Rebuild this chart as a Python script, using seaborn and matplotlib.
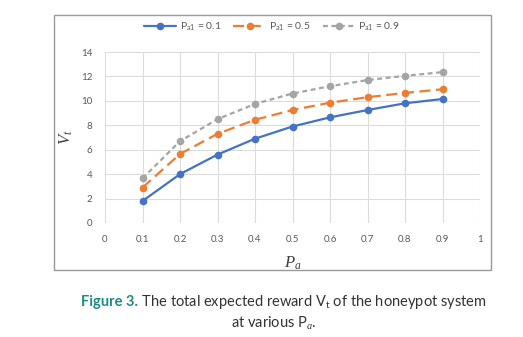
import matplotlib
matplotlib.use("Agg")
import matplotlib.pyplot as plt
import seaborn as sns
import pandas as pd
from matplotlib.patches import Rectangle

# Data
pa_values = [0.1, 0.2, 0.3, 0.4, 0.5, 0.6, 0.7, 0.8, 0.9]
vt_pa1_01 = [1.8, 4.0, 5.6, 6.9, 7.9, 8.65, 9.25, 9.8, 10.15]
vt_pa1_05 = [2.9, 5.65, 7.3, 8.45, 9.25, 9.85, 10.3, 10.65, 10.95]
vt_pa1_09 = [3.65, 6.7, 8.5, 9.75, 10.6, 11.2, 11.7, 12.05, 12.35]
series_labels = [r"P$_{\mathrm{a1}}$ = 0.1", r"P$_{\mathrm{a1}}$ = 0.5", r"P$_{\mathrm{a1}}$ = 0.9"]
x_ticks = [0, 0.1, 0.2, 0.3, 0.4, 0.5, 0.6, 0.7, 0.8, 0.9, 1]
x_tick_labels = ["0", "0.1", "0.2", "0.3", "0.4", "0.5", "0.6", "0.7", "0.8", "0.9", "1"]
y_ticks = [0, 2, 4, 6, 8, 10, 12, 14]

sns.set_theme(style="white")
plt.rcParams["font.family"] = ["Lato", "DejaVu Sans"]
plt.rcParams["mathtext.fontset"] = "custom"
plt.rcParams["mathtext.rm"] = "Lato"
plt.rcParams["mathtext.it"] = "Liberation Serif:italic"

W, H = 523, 337
fig = plt.figure(figsize=(W / 100, H / 100), dpi=100)
fig.patch.set_facecolor("white")

# chart frame
fig.patches.append(Rectangle((54 / W, 1 - 270 / H), (491 - 54) / W, (270 - 15) / H,
                             transform=fig.transFigure, fill=False,
                             edgecolor="#9a9a9a", linewidth=1.0))

ax = fig.add_axes([105 / W, 1 - 223 / H, 375 / W, 171 / H])

df = pd.DataFrame({
    "Pa": pa_values * 3,
    "Vt": vt_pa1_01 + vt_pa1_05 + vt_pa1_09,
    "series": [series_labels[0]] * 9 + [series_labels[1]] * 9 + [series_labels[2]] * 9,
})

colors = ["#4472C4", "#ED7D31", "#A5A5A5"]
dash_styles = ["", (5, 2.5), (2.2, 1.6)]
sns.lineplot(data=df, x="Pa", y="Vt", hue="series", style="series",
             palette=colors, dashes=dash_styles, markers=["o", "o", "o"],
             markersize=5.5, markeredgewidth=0, linewidth=1.6, ax=ax, legend="full")

ax.set_xlim(0, 1)
ax.set_ylim(0, 14)
ax.set_xticks(x_ticks)
ax.set_xticklabels(x_tick_labels)
ax.set_yticks(y_ticks)
ax.grid(True, color="#dcdcdc", linewidth=0.8)
ax.set_axisbelow(True)
for s in ax.spines.values():
    s.set_visible(False)
ax.tick_params(axis="both", length=0, labelsize=7, colors="#595959")
ax.tick_params(axis="x", pad=9)
ax.tick_params(axis="y", pad=9)
ax.set_xlabel("")
ax.set_ylabel("")

fig.text(293 / W, 1 - 263 / H, r"$P_a$", fontsize=12, color="#404040", ha="center", va="center")
fig.text(66 / W, 1 - 137 / H, r"$V_t$", fontsize=12, color="#404040", ha="center", va="center",
         rotation=90)

handles, labels = ax.get_legend_handles_labels()
ax.get_legend().remove()
fig.legend(handles, labels, loc="center", bbox_to_anchor=(272 / W, 1 - 27 / H), ncol=3,
           frameon=False, fontsize=7.5, handlelength=3.1, columnspacing=1.2,
           handletextpad=0.3, labelcolor="#595959")

# caption
fig.canvas.draw()
renderer = fig.canvas.get_renderer()
cap_y1 = 1 - 302 / H
t1 = fig.text(0, cap_y1, "Figure 3.", fontsize=10.5, fontweight="bold", color="#1d8a8a",
              ha="left", va="center")
t2 = fig.text(0, cap_y1, r" The total expected reward V$_{\mathrm{t}}$ of the honeypot system",
              fontsize=10.5, color="#333333", ha="left", va="center")
w1 = t1.get_window_extent(renderer).width
w2 = t2.get_window_extent(renderer).width
start = 284 - (w1 + w2) / 2
t1.set_x(start / W)
t2.set_x((start + w1) / W)
fig.text(274 / W, 1 - 323 / H, r"at various P$_{\mathit{a}}$.", fontsize=10.5, color="#333333",
         ha="center", va="center")

fig.savefig("out.png", dpi=100)
